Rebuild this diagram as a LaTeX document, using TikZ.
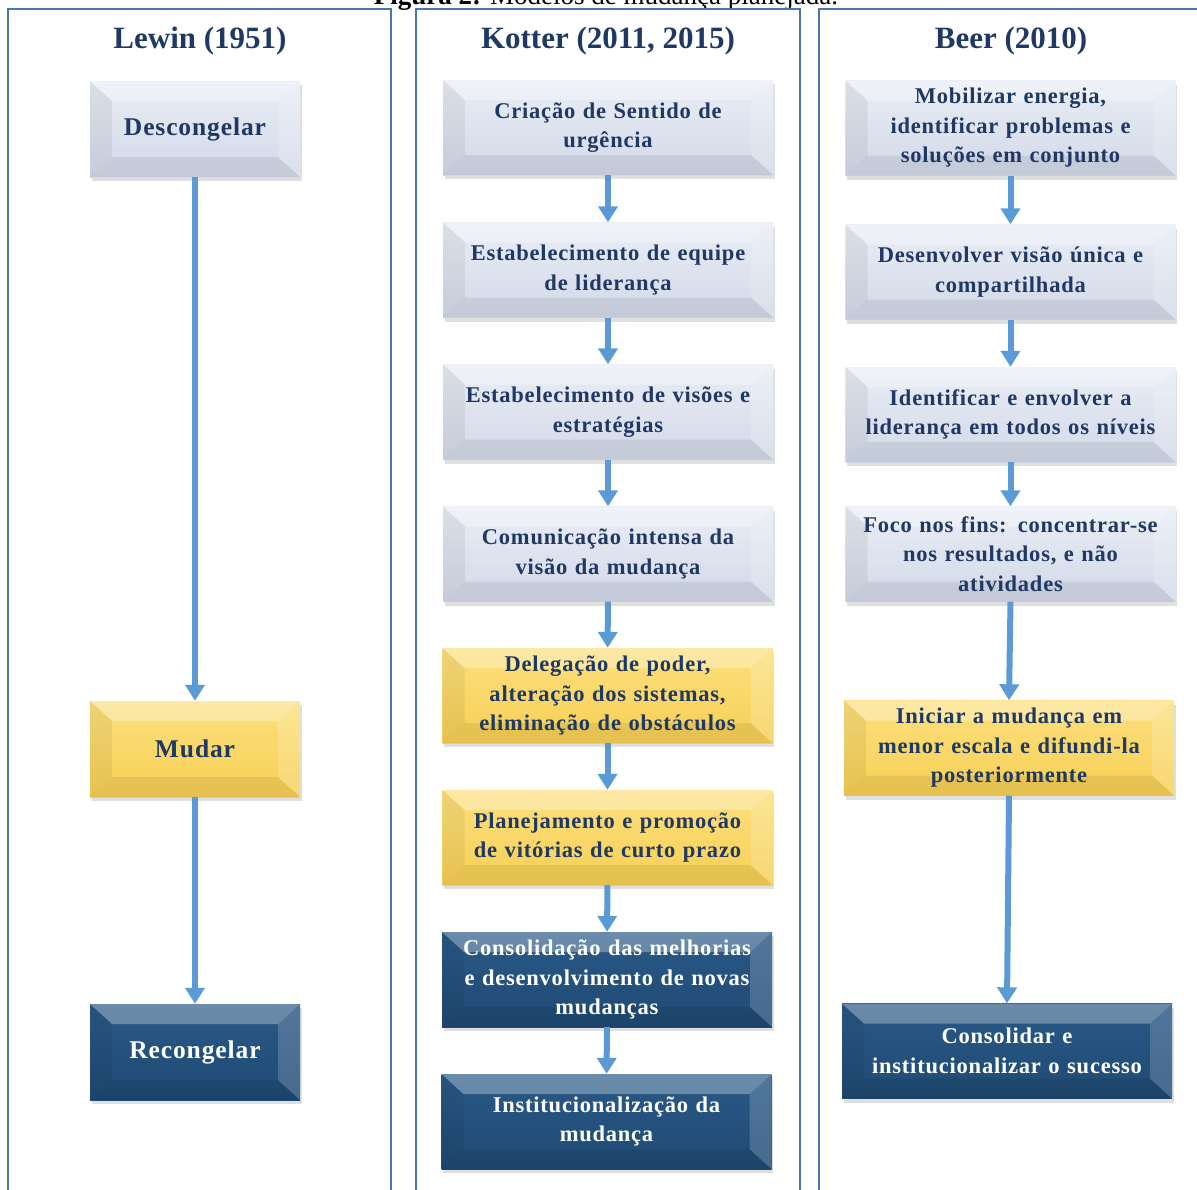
\documentclass[tikz,border=0pt]{standalone}
\usepackage{fontspec}
\setmainfont{Liberation Serif}
\usetikzlibrary{arrows.meta,shadows}

\definecolor{cadre}{HTML}{4A76AC}
\definecolor{marine}{HTML}{1F3864}
\definecolor{bleufleche}{HTML}{5B9BD5}
\definecolor{paleA}{HTML}{E9EDF5}
\definecolor{paleB}{HTML}{D2D9E8}
\definecolor{doreA}{HTML}{FCE07E}
\definecolor{doreB}{HTML}{F7CF54}
\definecolor{nuitA}{HTML}{2A5986}
\definecolor{nuitB}{HTML}{1F4A74}

\tikzset{
	etape/.style={rectangle, minimum width=330pt, minimum height=95pt, text width=330pt, align=center, inner sep=0pt,
		font=\bfseries\fontsize{22.5}{29.5}\selectfont\addfontfeature{LetterSpace=3.5},
		drop shadow={opacity=.25, shadow xshift=1.5pt, shadow yshift=-4pt},
		path picture={
			\coordinate (pnw) at (path picture bounding box.north west);
			\coordinate (pne) at (path picture bounding box.north east);
			\coordinate (psw) at (path picture bounding box.south west);
			\coordinate (pse) at (path picture bounding box.south east);
			\fill[white, opacity=.3] (pnw) -- (pne) -- ([shift={(-22pt,-20pt)}]pne) -- ([shift={(22pt,-20pt)}]pnw) -- cycle;
			\fill[black, opacity=.06] (pnw) -- (psw) -- ([shift={(22pt,20pt)}]psw) -- ([shift={(22pt,-20pt)}]pnw) -- cycle;
			\fill[white, opacity=.18] (pne) -- (pse) -- ([shift={(-22pt,20pt)}]pse) -- ([shift={(-22pt,-20pt)}]pne) -- cycle;
			\fill[black, opacity=.07] (psw) -- (pse) -- ([shift={(-22pt,20pt)}]pse) -- ([shift={(22pt,20pt)}]psw) -- cycle;
		}},
	pale/.style={etape, top color=paleA, bottom color=paleB, text=marine},
	dore/.style={etape, top color=doreA, bottom color=doreB, text=marine},
	nuit/.style={etape, top color=nuitA, bottom color=nuitB, text=white},
	court/.style={minimum width=210pt, minimum height=96pt, text width=210pt, font=\bfseries\fontsize{25.5}{30}\selectfont\addfontfeature{LetterSpace=3.5}},
	titre/.style={text=marine, font=\bfseries\fontsize{31}{34}\selectfont},
	suite/.style={draw=bleufleche, line width=6pt, -{Triangle[width=19pt,length=16pt]}}
}

\begin{document}
\begin{tikzpicture}[x=1pt, y=-1pt]
	\useasboundingbox (0,0) rectangle (1197,1189);
	\node[anchor=base, font=\fontsize{27}{30}\selectfont] (legende) at (606,4) {\textbf{Figura 2:} Modelos de mudança planejada.};
	\draw[cadre, line width=1.6pt] (8,9) rectangle (391,1215);
	\draw[cadre, line width=1.6pt] (416,9) rectangle (800,1215);
	\draw[cadre, line width=1.6pt] (819,9) rectangle (1220,1215);

	\node[titre] (lewin) at (200,41) {Lewin (1951)};
	\node[titre] (kotter) at (608,41) {Kotter (2011, 2015)};
	\node[titre] (beer) at (1011,41) {Beer (2010)};

	% Lewin
	\node[pale, court] (l1) at (195,129) {Descongelar};
	\node[dore, court] (l2) at (195,749) {Mudar};
	\node[nuit, court] (l3) at (195,1052) {Recongelar};
	\draw[suite] (l1) -- (l2);
	\draw[suite] (l2) -- (l3);

	% Kotter
	\node[pale] (k1) at (608,127.5) {Criação de Sentido de\\urgência};
	\node[pale] (k2) at (608,270) {Estabelecimento de equipe\\de liderança};
	\node[pale] (k3) at (608,412) {Estabelecimento de visões e\\estratégias};
	\node[pale] (k4) at (608,554) {Comunicação intensa da\\visão da mudança};
	\node[dore] (k5) at (607.5,695.5) {Delegação de poder,\\alteração dos sistemas,\\eliminação de obstáculos};
	\node[dore] (k6) at (607.5,837.5) {Planejamento e promoção\\de vitórias de curto prazo};
	\node[nuit] (k7) at (607,979.5) {Consolidação das melhorias\\e desenvolvimento de novas\\mudanças};
	\node[nuit] (k8) at (606.5,1121.5) {Institucionalização da\\mudança};
	\draw[suite] (k1) -- (k2);
	\draw[suite] (k2) -- (k3);
	\draw[suite] (k3) -- (k4);
	\draw[suite] (k4) -- (k5);
	\draw[suite] (k5) -- (k6);
	\draw[suite] (k6) -- (k7);
	\draw[suite] (k7) -- (k8);

	% Beer
	\node[pale] (b1) at (1010.5,128) {Mobilizar energia,\\identificar problemas e\\soluções em conjunto};
	\node[pale] (b2) at (1010.5,272) {Desenvolver visão única e\\compartilhada};
	\node[pale] (b3) at (1010.5,414.5) {Identificar e envolver a\\liderança em todos os níveis};
	\node[pale] (b4) at (1010.5,554) {Foco nos fins: concentrar-se\\nos resultados, e não\\atividades};
	\node[dore] (b5) at (1009,748) {Iniciar a mudança em\\menor escala e difundi-la\\posteriormente};
	\node[nuit] (b6) at (1007,1051) {Consolidar e\\institucionalizar o sucesso};
	\draw[suite] (b1.south) -- (b2.north);
	\draw[suite] (b2.south) -- (b3.north);
	\draw[suite] (b3.south) -- (b4.north);
	\draw[suite] (b4.south) -- (b5.north);
	\draw[suite] (b5.south) -- (b6.north);
\end{tikzpicture}
\end{document}
